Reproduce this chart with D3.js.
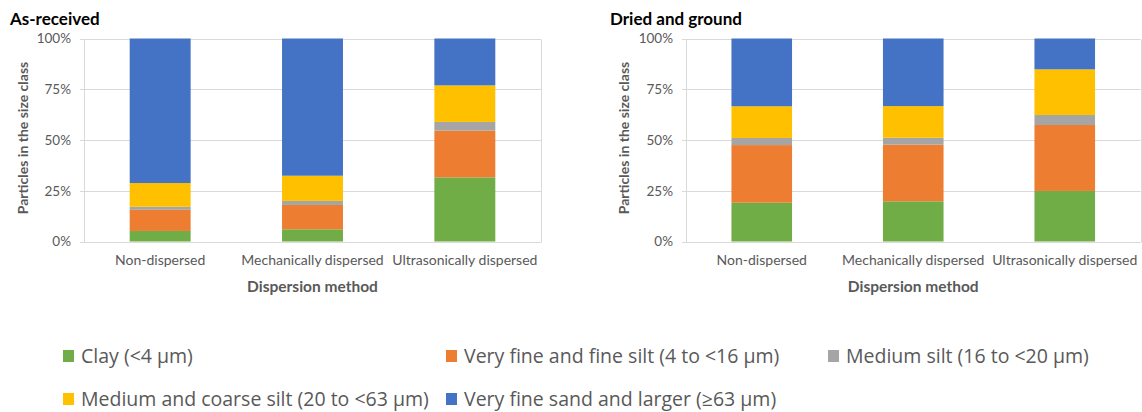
<!DOCTYPE html>
<html>
<head>
<meta charset="utf-8">
<script src="https://cdn.jsdelivr.net/npm/d3@7"></script>
<style>
  html, body { margin: 0; padding: 0; background: #fff; }
  svg { display: block; font-family: Lato, "Open Sans", sans-serif; }
</style>
</head>
<body>
<svg id="chart" width="1142" height="412"></svg>
<script>
// Dispersion methods on the x axis
const categories = ["Non-dispersed", "Mechanically dispersed", "Ultrasonically dispersed"];

// Particle size classes (stack order, bottom to top)
const sizeClasses = [
  "Clay (<4 µm)",
  "Very fine and fine silt (4 to <16 µm)",
  "Medium silt (16 to <20 µm)",
  "Medium and coarse silt (20 to <63 µm)",
  "Very fine sand and larger (≥63 µm)"
];
const classColors = ["#70AD47", "#ED7D31", "#A5A5A5", "#FFC000", "#4472C4"];

// Percent of particles in each size class, one row per class, one value per method
const asReceivedClay   = [5.2, 6.0, 31.6];
const asReceivedVfSilt = [10.4, 12.0, 23.0];
const asReceivedMSilt  = [1.5, 2.0, 4.3];
const asReceivedMcSilt = [11.7, 12.4, 18.0];
const asReceivedSand   = [71.2, 67.6, 23.1];

const driedClay   = [19.1, 19.8, 24.9];
const driedVfSilt = [28.4, 27.9, 32.5];
const driedMSilt  = [3.5, 3.4, 4.9];
const driedMcSilt = [15.6, 15.6, 22.5];
const driedSand   = [33.4, 33.3, 15.2];

const yTicks = [0, 25, 50, 75, 100];

const panels = [
  { title: "As-received", series: [asReceivedClay, asReceivedVfSilt, asReceivedMSilt, asReceivedMcSilt, asReceivedSand],
    x0: 84, x1: 541, titleX: 10, yTitleX: 28 },
  { title: "Dried and ground", series: [driedClay, driedVfSilt, driedMSilt, driedMcSilt, driedSand],
    x0: 686, x1: 1140.5, titleX: 610, yTitleX: 629 }
];

const svg = d3.select("#chart");
const yTop = 38.5, yBottom = 241.5;
const textGray = "#595959";
const gridGray = "#D9D9D9";

panels.forEach(p => {
  const g = svg.append("g");

  const x = d3.scaleBand().domain(categories).range([p.x0, p.x1])
    .paddingInner(0.6).paddingOuter(0.3);
  const y = d3.scaleLinear().domain([0, 100]).range([yBottom, yTop]);

  // horizontal gridlines with a short tick to the left of the axis
  g.append("g").selectAll("line").data(yTicks).join("line")
    .attr("x1", p.x0 - 4).attr("x2", p.x1)
    .attr("y1", d => Math.round(y(d)) + 0.5).attr("y2", d => Math.round(y(d)) + 0.5)
    .attr("stroke", gridGray).attr("stroke-width", 1);

  // left and right borders of the plot area
  [p.x0, p.x1].forEach(xx => {
    g.append("line")
      .attr("x1", Math.round(xx) + 0.5).attr("x2", Math.round(xx) + 0.5)
      .attr("y1", Math.round(y(100)) + 0.5).attr("y2", Math.round(y(0)) + 0.5)
      .attr("stroke", gridGray).attr("stroke-width", 1);
  });

  // stacked bars
  const rows = categories.map((c, i) => {
    const r = { cat: c };
    sizeClasses.forEach((k, j) => { r[k] = p.series[j][i]; });
    return r;
  });
  const stacked = d3.stack().keys(sizeClasses)(rows);

  g.append("g").selectAll("g").data(stacked).join("g")
    .attr("fill", (d, i) => classColors[i])
    .selectAll("rect").data(d => d).join("rect")
    .attr("x", d => x(d.data.cat))
    .attr("width", x.bandwidth())
    .attr("y", d => y(d[1]))
    .attr("height", d => y(d[0]) - y(d[1]));

  // y axis tick labels
  const yAxis = d3.axisLeft(y).tickValues(yTicks).tickFormat(d => d + "%").tickSize(0).tickPadding(0);
  const ya = g.append("g").attr("transform", `translate(${p.x0 - 13},0)`).call(yAxis);
  ya.select(".domain").remove();
  ya.selectAll("text").attr("fill", textGray).attr("font-size", 13.5)
    .attr("font-family", "Lato, sans-serif");

  // x axis category labels
  const xAxis = d3.axisBottom(x).tickSize(0).tickPadding(0);
  const xa = g.append("g").attr("transform", `translate(0,${yBottom + 14})`).call(xAxis);
  xa.select(".domain").remove();
  xa.selectAll("text").attr("fill", textGray).attr("font-size", 14)
    .attr("font-family", "Lato, sans-serif");

  // axis titles
  g.append("text")
    .attr("x", (p.x0 + p.x1) / 2).attr("y", 292)
    .attr("text-anchor", "middle").attr("font-weight", "bold").attr("font-size", 15.5)
    .attr("fill", textGray).text("Dispersion method");

  g.append("text")
    .attr("transform", `translate(${p.yTitleX},${(yTop + yBottom) / 2 - 2}) rotate(-90)`)
    .attr("text-anchor", "middle").attr("font-weight", "bold").attr("font-size", 14)
    .attr("fill", textGray).text("Particles in the size class");

  // panel title
  g.append("text")
    .attr("x", p.titleX).attr("y", 25)
    .attr("font-weight", "bold").attr("font-size", 17)
    .attr("fill", "#000").text(p.title);
});

// legend
const legendPos = [
  { x: 63, y: 356 }, { x: 446, y: 356 }, { x: 828, y: 356 },
  { x: 63, y: 399 }, { x: 446, y: 399 }
];
const lg = svg.append("g").selectAll("g").data(sizeClasses).join("g")
  .attr("transform", (d, i) => `translate(${legendPos[i].x},${legendPos[i].y})`);
lg.append("rect").attr("x", 0).attr("y", -6).attr("width", 11).attr("height", 12)
  .attr("fill", (d, i) => classColors[i]);
lg.append("text").attr("x", 18).attr("y", 7)
  .attr("font-family", "'Open Sans', sans-serif")
  .attr("font-size", 19.5).attr("fill", textGray).text(d => d);
</script>
</body>
</html>
